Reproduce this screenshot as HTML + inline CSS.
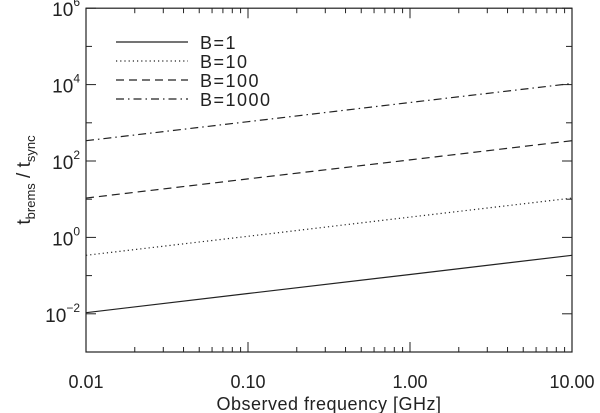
<!DOCTYPE html>
<html><head><meta charset="utf-8"><style>
body{margin:0;background:#fff}
svg{display:block;font-family:"Liberation Sans",sans-serif}
</style></head><body>
<svg id="chart" width="600" height="413" viewBox="0 0 600 413">
<rect x="0" y="0" width="600" height="413" fill="#fff"/>
<g id="axes"></g>
<g id="series"></g>
<g id="legend"></g>
</svg>
<script>
const freqs = [0.01, 0.1, 1, 10];
const seriesB1 = [0.0107, 0.034, 0.107, 0.34];
const seriesB10 = [0.34, 1.07, 3.4, 10.7];
const seriesB100 = [10.7, 34, 107, 340];
const seriesB1000 = [340, 1070, 3400, 10700];
const seriesNames = ["B=1", "B=10", "B=100", "B=1000"];
const xTickLabels = ["0.01", "0.10", "1.00", "10.00"];
const xTickValues = [0.01, 0.1, 1, 10];
const yTickExps = [-2, 0, 2, 4, 6];

const NS = "http://www.w3.org/2000/svg";
const L = 86, R = 572, T = 8.2, B = 352;
const xmin = -2, xmax = 1, ymin = -3, ymax = 6;
function xs(v){ return L + (Math.log10(v) - xmin) / (xmax - xmin) * (R - L); }
function ys(v){ return B - (Math.log10(v) - ymin) / (ymax - ymin) * (B - T); }
function mk(tag, attrs, parent){ const e = document.createElementNS(NS, tag); for (const k in attrs) e.setAttribute(k, attrs[k]); parent.appendChild(e); return e; }

const axes = document.getElementById('axes');
const frame = mk('rect', {x:L, y:T, width:R-L, height:B-T, fill:'none', stroke:'#222', 'stroke-width':1.2}, axes);



for (let d = -2; d <= 1; d++) {
  for (let m = 1; m <= 9; m++) {
    const v = m * Math.pow(10, d);
    if (Math.log10(v) > xmax + 1e-9) break;
    const x = xs(v);
    const len = m === 1 ? 10 : 5;
    const t1 = mk('line', {x1:x, x2:x, y1:B, y2:B-len, stroke:'#222', 'stroke-width':1}, axes);
    
    
    const t2 = mk('line', {x1:x, x2:x, y1:T, y2:T+len, stroke:'#222', 'stroke-width':1}, axes);
    
    
  }
}
xTickValues.forEach((v, i) => {
  const t = mk('text', {x:xs(v), y:388, 'text-anchor':'middle', 'font-size':18, fill:'#222'}, axes);
  t.textContent = xTickLabels[i];
  
  
});
const xt = mk('text', {x:(L+R)/2, y:410, 'text-anchor':'middle', 'font-size':18, fill:'#222', 'letter-spacing':0.5}, axes);
xt.textContent = 'Observed frequency [GHz]';



for (let e = ymin; e <= ymax; e++) {
  const y = ys(Math.pow(10, e));
  const len = (e % 2 === 0) ? 10 : 6;
  const a = mk('line', {x1:L, x2:L+len, y1:y, y2:y, stroke:'#222', 'stroke-width':1}, axes);
  
  
  const b = mk('line', {x1:R, x2:R-len, y1:y, y2:y, stroke:'#222', 'stroke-width':1}, axes);
  
  
}
yTickExps.forEach(e => {
  const y = ys(Math.pow(10, e));
  const t = mk('text', {x:80, y:y+8, 'text-anchor':'end', 'font-size':19, fill:'#222'}, axes);
  
  
  const base = document.createElementNS(NS, 'tspan'); base.textContent = '10'; t.appendChild(base);
  const sup = document.createElementNS(NS, 'tspan');
  sup.setAttribute('dy', -10); sup.setAttribute('font-size', 12);
  sup.textContent = e < 0 ? '\u2212' + (-e) : String(e);
  t.appendChild(sup);
});
const yt = mk('text', {x:0, y:0, 'text-anchor':'middle', 'font-size':19, fill:'#222', transform:'translate(30,180) rotate(-90)'}, axes);


yt.innerHTML = 't<tspan dy="5" font-size="13">brems</tspan><tspan dy="-5"> / t</tspan><tspan dy="5" font-size="13">sync</tspan>';

const dashes = ['', '1.2,3', '8,5', '8,4,1.5,4'];
const allSeries = [seriesB1, seriesB10, seriesB100, seriesB1000];
const sg = document.getElementById('series');
allSeries.forEach((vals, i) => {
  const pts = vals.map((v, j) => xs(freqs[j]).toFixed(2) + ',' + ys(v).toFixed(2)).join(' ');
  const pl = mk('polyline', {points:pts, fill:'none', stroke:'#222', 'stroke-width':1.2, 'stroke-dasharray':dashes[i]}, sg);
  
  
});

const lg = document.getElementById('legend');
const legY = [42, 61, 80, 99];
seriesNames.forEach((n, i) => {
  const ln = mk('line', {x1:116, x2:188, y1:legY[i], y2:legY[i], stroke:'#222', 'stroke-width':1.2, 'stroke-dasharray':dashes[i]}, lg);
  
  
  const t = mk('text', {x:200, y:legY[i]+7, 'font-size':18, fill:'#222', 'letter-spacing':1.5}, lg);
  t.textContent = n;
  
  
});
</script>
</body></html>
